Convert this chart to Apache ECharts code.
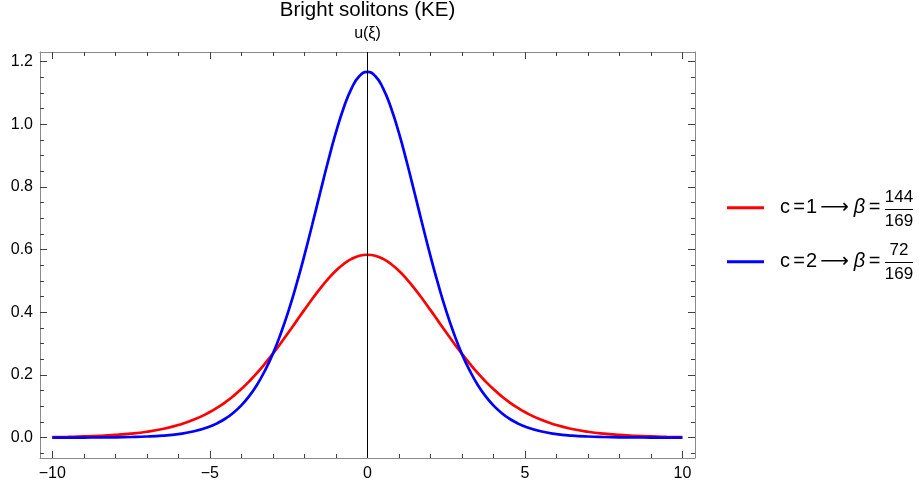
<!DOCTYPE html>
<html><head><meta charset="utf-8">
<script src="https://cdn.jsdelivr.net/npm/echarts@6/dist/echarts.min.js"></script>
<style>html,body{margin:0;padding:0;background:#fff}#c{width:919px;height:482px}</style>
</head><body><div id="c"></div>
<script>
const xs = [-10,-9.5,-9,-8.5,-8,-7.5,-7,-6.5,-6,-5.5,-5,-4.75,-4.5,-4.25,-4,-3.75,-3.5,-3.25,-3,-2.75,-2.5,-2.25,-2,-1.75,-1.5,-1.25,-1,-0.75,-0.5,-0.25,0,0.25,0.5,0.75,1,1.25,1.5,1.75,2,2.25,2.5,2.75,3,3.25,3.5,3.75,4,4.25,4.5,4.75,5,5.5,6,6.5,7,7.5,8,8.5,9,9.5,10];
const redU = [0.0016,0.0025,0.0037,0.0056,0.0085,0.0126,0.0187,0.0275,0.0400,0.0575,0.0815,0.0964,0.1135,0.1329,0.1548,0.1794,0.2063,0.2358,0.2674,0.3009,0.3359,0.3716,0.4074,0.4423,0.4753,0.5057,0.5321,0.5539,0.5700,0.5800,0.5833,0.5800,0.5700,0.5539,0.5321,0.5057,0.4753,0.4423,0.4074,0.3716,0.3359,0.3009,0.2674,0.2358,0.2063,0.1794,0.1548,0.1329,0.1135,0.0964,0.0815,0.0575,0.0400,0.0275,0.0187,0.0126,0.0085,0.0056,0.0037,0.0025,0.0016];
const blueU = [0.0001,0.0002,0.0003,0.0006,0.0011,0.0020,0.0035,0.0064,0.0114,0.0202,0.0354,0.0466,0.0610,0.0795,0.1029,0.1323,0.1688,0.2138,0.2672,0.3312,0.4048,0.4886,0.5806,0.6791,0.7803,0.8799,0.9725,1.0524,1.1142,1.1533,1.1667,1.1533,1.1142,1.0524,0.9725,0.8799,0.7803,0.6791,0.5806,0.4886,0.4048,0.3312,0.2672,0.2138,0.1688,0.1323,0.1029,0.0795,0.0610,0.0466,0.0354,0.0202,0.0114,0.0064,0.0035,0.0020,0.0011,0.0006,0.0003,0.0002,0.0001];
const seriesNames = ['c=1⟶β=144/169','c=2⟶β=72/169'];
const legendC = ['1','2'];
const fracNum = ['144','72'];
const fracDen = ['169','169'];
const xMajor = [-10,-5,0,5,10];
const xMinor = [-9,-8,-7,-6,-4,-3,-2,-1,1,2,3,4,6,7,8,9];
const yMajor = [0,0.2,0.4,0.6,0.8,1.0,1.2];
const yMinor = [-0.05,0.05,0.1,0.15,0.25,0.3,0.35,0.45,0.5,0.55,0.65,0.7,0.75,0.85,0.9,0.95,1.05,1.1,1.15];
const titleText = 'Bright solitons (KE)';
const yLabelText = 'u(ξ)';

const FONT = "'Liberation Sans', Arial, sans-serif";
const frameColor = '#8a8a8a';
const tickColor = '#404040';

function xAx(pos, vals, len, labels, line) {
  return {
    type: 'value', position: pos, min: -10.39, max: 10.4, gridIndex: 0,
    axisLine: {show: line, onZero: false, lineStyle: {color: frameColor, width: 1}},
    axisTick: {show: true, inside: true, length: len, customValues: vals, lineStyle: {color: tickColor, width: 1}},
    axisLabel: labels ? {show: true, customValues: vals, margin: 8, color: '#000', fontSize: 16, fontFamily: FONT,
      formatter: v => (v < 0 ? '\u2212' + Math.abs(v) : String(v))} : {show: false},
    splitLine: {show: false}
  };
}
function yAx(pos, vals, len, labels, line) {
  return {
    type: 'value', position: pos, min: -0.065, max: 1.23, gridIndex: 0,
    axisLine: {show: line, onZero: false, lineStyle: {color: frameColor, width: 1}},
    axisTick: {show: true, inside: true, length: len, customValues: vals, lineStyle: {color: tickColor, width: 1}},
    axisLabel: labels ? {show: true, customValues: vals, margin: 7, color: '#000', fontSize: 16, fontFamily: FONT,
      formatter: v => v.toFixed(1)} : {show: false},
    splitLine: {show: false}
  };
}

const LF = 20;
const base = {fontSize: LF, lineHeight: 22, fontFamily: FONT, color: '#000', align: 'center'};
const richLegend = {
  sp: Object.assign({}, base, {width: 9}),
  c: Object.assign({}, base, {width: 14}),
  eq: Object.assign({}, base, {width: 14}),
  eq2: Object.assign({}, base, {width: 15}),
  n: Object.assign({}, base, {width: 11}),
  ar: Object.assign({}, base, {width: 35, fontFamily: "'DejaVu Sans', sans-serif"}),
  b: Object.assign({}, base, {width: 15, fontStyle: 'italic'})
};
function legendFmt(i) {
  return '{sp| }{c|c}{eq|=}{n|' + legendC[i] + '}{ar|⟶}{b|β}{eq2|=}';
}
const legendTops = [196.7, 250.7];
const fracY = [[197.5, 209.5, 221], [250.8, 262.5, 274.2]];

const graphics = [
  {type: 'text', x: 367.5, y: 10.5, style: {text: titleText, fill: '#000', font: "20.5px " + FONT, align: 'center', verticalAlign: 'middle'}},
  {type: 'text', x: 367.5, y: 34, style: {text: yLabelText, fill: '#000', font: "16px " + FONT, align: 'center', verticalAlign: 'middle'}}
];
for (let i = 0; i < 2; i++) {
  graphics.push({type: 'text', x: 899, y: fracY[i][0], style: {text: fracNum[i], fill: '#000', font: "17px " + FONT, align: 'center', verticalAlign: 'middle'}});
  graphics.push({type: 'line', shape: {x1: 885, y1: fracY[i][1], x2: 913, y2: fracY[i][1]}, style: {stroke: '#000', lineWidth: 1}});
  graphics.push({type: 'text', x: 899, y: fracY[i][2], style: {text: fracDen[i], fill: '#000', font: "17px " + FONT, align: 'center', verticalAlign: 'middle'}});
}

const chart = echarts.init(document.getElementById('c'), null, {renderer: 'canvas'});
chart.setOption({
  backgroundColor: '#fff',
  animation: false,
  grid: {left: 40, top: 52, width: 655, height: 406, containLabel: false},
  xAxis: [
    xAx('bottom', xMajor, 7, true, true),
    xAx('bottom', xMinor, 4, false, false),
    xAx('top', xMajor, 7, false, true),
    xAx('top', xMinor, 4, false, false)
  ],
  yAxis: [
    yAx('left', yMajor, 7, true, true),
    yAx('left', yMinor, 4, false, false),
    yAx('right', yMajor, 7, false, true),
    yAx('right', yMinor, 4, false, false)
  ],
  legend: [0, 1].map(i => ({
    data: [seriesNames[i]], orient: 'vertical', left: 727, top: legendTops[i], padding: 0,
    icon: 'rect', itemWidth: 37, itemHeight: 3, itemGap: 0, selectedMode: false,
    formatter: () => legendFmt(i),
    textStyle: {rich: richLegend, fontSize: LF, lineHeight: 22}
  })),
  graphic: graphics,
  series: [
    {
      name: seriesNames[0], type: 'line', xAxisIndex: 0, yAxisIndex: 0, smooth: 0.5, symbol: 'none',
      data: xs.map((x, i) => [x, redU[i]]),
      lineStyle: {color: '#ff0000', width: 2.7}, itemStyle: {color: '#ff0000'}, z: 3,
      markLine: {
        silent: true, symbol: 'none', animation: false,
        label: {show: false},
        lineStyle: {color: '#000', width: 1, type: 'solid'},
        data: [{xAxis: 0}]
      }
    },
    {
      name: seriesNames[1], type: 'line', xAxisIndex: 0, yAxisIndex: 0, smooth: 0.5, symbol: 'none',
      data: xs.map((x, i) => [x, blueU[i]]),
      lineStyle: {color: '#0000ff', width: 2.7}, itemStyle: {color: '#0000ff'}, z: 3
    }
  ]
});
</script></body></html>
